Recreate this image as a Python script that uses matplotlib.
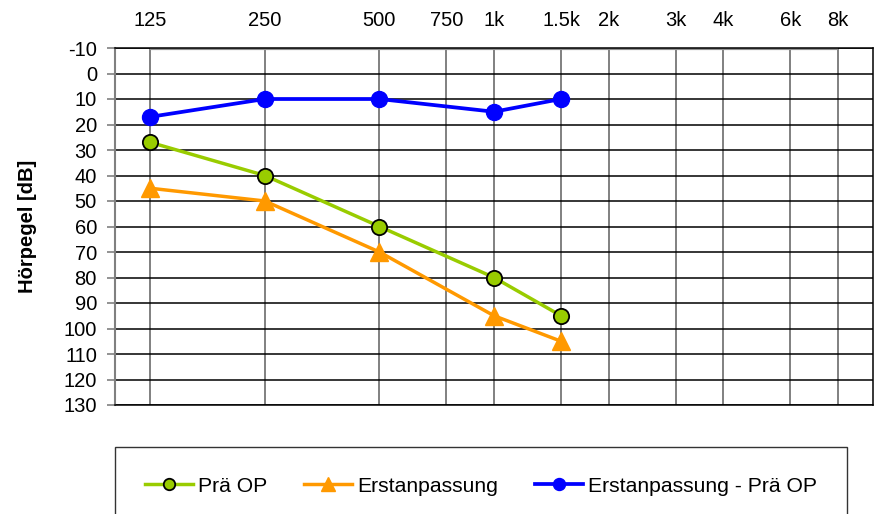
import numpy as np
import matplotlib
matplotlib.use("Agg")
import matplotlib.pyplot as plt
from matplotlib.ticker import NullLocator

plt.rcParams['font.family'] = ['Liberation Sans', 'DejaVu Sans']
plt.rcParams['axes.unicode_minus'] = False

# frequency axis
tick_freqs = [125, 250, 500, 750, 1000, 1500, 2000, 3000, 4000, 6000, 8000]
tick_labels = ["125", "250", "500", "750", "1k", "1.5k", "2k", "3k", "4k", "6k", "8k"]

# measured frequencies
freqs = [125, 250, 500, 1000, 1500]

# hearing levels in dB
prae_op = [27, 40, 60, 80, 95]
erstanpassung = [45, 50, 70, 95, 105]
differenz = [17, 10, 10, 15, 10]

y_ticks = list(range(-10, 131, 10))

fig = plt.figure(figsize=(8.79, 5.14), dpi=100)
ax = fig.add_axes([115 / 879, 1 - 405 / 514, (873 - 115) / 879, (405 - 48) / 514])

ax.set_xscale('log')
ax.set_xlim(101, 9900)
ax.set_ylim(130, -10)

# grid
for f in tick_freqs:
    ax.axvline(f, color='#808080', lw=1.4, zorder=1)
for v in y_ticks:
    ax.axhline(v, color='black', lw=1.1, zorder=1)
ax.hlines(-10, tick_freqs[0], tick_freqs[-1], color='#909090', lw=3, zorder=2)

ax.plot(freqs, prae_op, color='#99CC00', lw=2.5, marker='o', ms=11,
        mfc='#99CC00', mec='black', mew=1.3, label='Prä OP', zorder=4)
ax.plot(freqs, erstanpassung, color='#FF9900', lw=2.5, marker='^', ms=13,
        mfc='#FF9900', mec='#FF9900', label='Erstanpassung', zorder=3)
ax.plot(freqs, differenz, color='#0000FF', lw=2.7, marker='o', ms=11.5,
        mfc='#0000FF', mec='#0000FF', label='Erstanpassung - Prä OP', zorder=5)

ax.set_xticks(tick_freqs)
ax.set_xticklabels(tick_labels)
ax.xaxis.set_minor_locator(NullLocator())
ax.xaxis.tick_top()
ax.tick_params(axis='x', length=0, pad=13, labelsize=14.5)

ax.set_yticks(y_ticks)
ax.set_yticklabels([str(v) for v in y_ticks])
ax.tick_params(axis='y', length=6, width=1.2, color='#808080', labelsize=14.5, pad=7)

for s in ['top', 'right', 'bottom']:
    ax.spines[s].set_color('black')
    ax.spines[s].set_linewidth(1.1)
ax.spines['left'].set_color('#808080')
ax.spines['left'].set_linewidth(1.5)

ax.set_ylabel('Hörpegel [dB]', fontweight='bold', fontsize=14.5, labelpad=19)

handles, labels = ax.get_legend_handles_labels()
leg = fig.legend(handles, labels, ncol=3, mode='expand', markerscale=0.75,
                 bbox_to_anchor=(115 / 879, 1 - 540 / 514, (847 - 115) / 879, (540 - 447) / 514),
                 loc='upper left', fontsize=15.2, frameon=True, fancybox=False,
                 edgecolor='black', handlelength=2.3, handletextpad=0.25,
                 borderaxespad=0, borderpad=1.4)
leg.get_frame().set_linewidth(1.0)

fig.savefig('out.png', dpi=100)
